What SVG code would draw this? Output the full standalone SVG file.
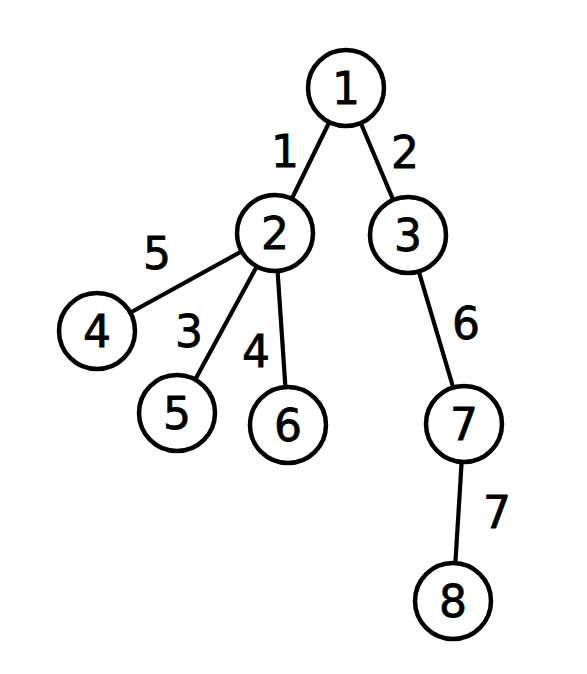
<svg xmlns="http://www.w3.org/2000/svg" width="587" height="674" viewBox="0 0 587 674">
<style>
.n circle{fill:#fff;stroke:#000;stroke-width:4.5}
text{font-family:"DejaVu Sans",sans-serif;font-size:44px;text-anchor:middle;fill:#000;stroke:#000;stroke-width:0.8}
.e line{stroke:#000;stroke-width:4.2}
</style>
<rect width="587" height="674" fill="#fff"/>
<g id="edges" class="e">
<line x1="346" y1="88" x2="275" y2="233"/>
<line x1="346" y1="88" x2="408" y2="235"/>
<line x1="275" y1="233" x2="97" y2="331"/>
<line x1="275" y1="233" x2="177" y2="413"/>
<line x1="275" y1="233" x2="288" y2="425"/>
<line x1="408" y1="235" x2="464" y2="424"/>
<line x1="464" y1="424" x2="453" y2="601"/>
</g>
<g id="edge-labels">
<text x="285" y="167">1</text>
<text x="405" y="168">2</text>
<text x="157" y="269">5</text>
<text x="189" y="347">3</text>
<text x="256" y="367">4</text>
<text x="466" y="339">6</text>
<text x="497" y="528">7</text>
</g>
<g id="node1" class="n"><circle cx="346" cy="88" r="38"/><text x="346" y="104">1</text></g>
<g id="node2" class="n"><circle cx="275" cy="233" r="38"/><text x="275" y="249">2</text></g>
<g id="node3" class="n"><circle cx="408" cy="235" r="38"/><text x="408" y="251">3</text></g>
<g id="node4" class="n"><circle cx="97" cy="331" r="38"/><text x="97" y="347">4</text></g>
<g id="node5" class="n"><circle cx="177" cy="413" r="38"/><text x="177" y="429">5</text></g>
<g id="node6" class="n"><circle cx="288" cy="425" r="38"/><text x="288" y="441">6</text></g>
<g id="node7" class="n"><circle cx="464" cy="424" r="38"/><text x="464" y="440">7</text></g>
<g id="node8" class="n"><circle cx="453" cy="601" r="38"/><text x="453" y="617">8</text></g>
</svg>
